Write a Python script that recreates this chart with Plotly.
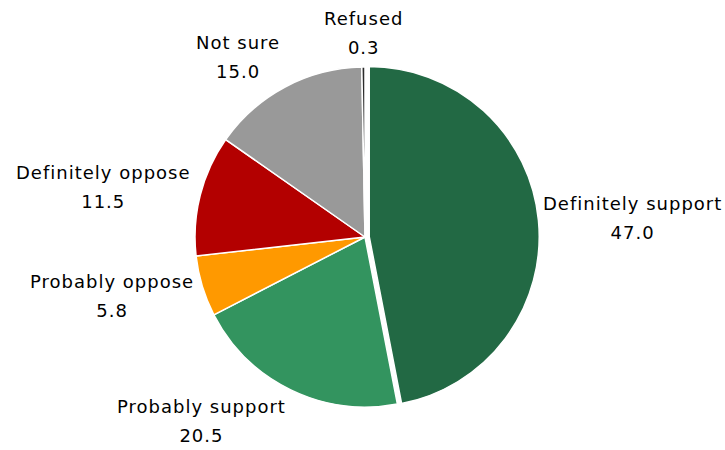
import math
import plotly.graph_objects as go

labels = ["Definitely support", "Probably support", "Probably oppose",
          "Definitely oppose", "Not sure", "Refused"]
values = [47.0, 20.5, 5.8, 11.5, 15.0, 0.3]
colors = ["#226944", "#33945F", "#FF9900", "#B30000", "#999999", "#2B2B2B"]
pulls = [0.025, 0, 0, 0, 0, 0]

W, H = 725, 450
CX, CY = 365, 237          # pie centre in pixels
R = 170                    # pie radius in pixels
LABEL_R = 177              # label anchor distance from centre
BLOCK_H = 54               # approx. height of a two-line label block
TEXT_PX = 18               # glyph size
PITCH_PX = 22              # outer font size -> line pitch of 1.3 * 22
SPAN = "font-size:%dpx;letter-spacing:1px" % TEXT_PX

dom_h = 2 * R * (1 + max(pulls)) / H
cyp = (H - CY) / H
fig = go.Figure(go.Pie(
    labels=labels,
    values=values,
    sort=False,
    direction="clockwise",
    rotation=0,
    pull=pulls,
    marker=dict(colors=colors, line=dict(color="white", width=1.5)),
    textinfo="none",
    showlegend=False,
    hoverinfo="label+value",
    domain=dict(x=[2 * CX / W - 1, 1], y=[cyp - dom_h / 2, cyp + dom_h / 2]),
))

total = sum(values)
cum = 0.0
annotations = []
for lab, val in zip(labels, values):
    mid = (cum + val / 2) / total * 2 * math.pi
    cum += val
    s, c = math.sin(mid), math.cos(mid)
    px = CX + LABEL_R * s
    py = CY - LABEL_R * c
    xa = "left" if s > 0.2 else ("right" if s < -0.2 else "center")
    annotations.append(dict(
        x=px / W, y=(H - py) / H, xref="paper", yref="paper",
        text=f"<span style='{SPAN}'>{lab}</span><br><span style='{SPAN}'>{val:.1f}</span>",
        showarrow=False,
        font=dict(family="DejaVu Sans", size=PITCH_PX, color="#000000"),
        xanchor=xa, yanchor="middle", align="center",
        yshift=c * BLOCK_H / 2,
    ))

fig.update_layout(
    width=W, height=H,
    margin=dict(l=0, r=0, t=0, b=0),
    paper_bgcolor="white",
    plot_bgcolor="white",
    annotations=annotations,
)

fig.write_html("out.html", config={"displayModeBar": False},
               post_script="document.body.style.margin='0';")
